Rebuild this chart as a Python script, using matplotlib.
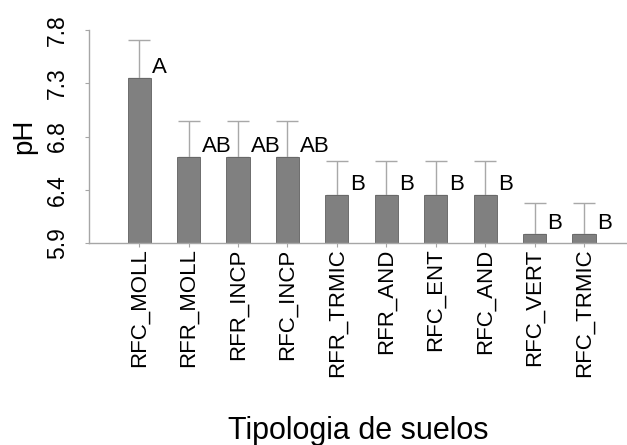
import matplotlib
matplotlib.use("Agg")
import matplotlib.pyplot as plt
import numpy as np

plt.rcParams['font.family'] = ['Liberation Sans', 'DejaVu Sans']

# Soil typologies and mean pH with upper error
categories = ["RFC_MOLL", "RFR_MOLL", "RFR_INCP", "RFC_INCP", "RFR_TRMIC",
              "RFR_AND", "RFC_ENT", "RFC_AND", "RFC_VERT", "RFC_TRMIC"]
ph_mean = [7.37, 6.67, 6.67, 6.67, 6.33, 6.33, 6.33, 6.33, 5.98, 5.98]
ph_err = [0.34, 0.32, 0.32, 0.32, 0.30, 0.30, 0.30, 0.30, 0.28, 0.28]
groups = ["A", "AB", "AB", "AB", "B", "B", "B", "B", "B", "B"]
yticks = [5.9, 6.375, 6.85, 7.325, 7.8]
ytick_labels = ["5.9", "6.4", "6.8", "7.3", "7.8"]

fig = plt.figure(figsize=(6.27, 4.45), dpi=100)
ax = fig.add_axes([89 / 627, 202 / 445, 538 / 627, 213 / 445])

x = np.arange(len(categories))
width = 0.47
axis_gray = "#a6a6a6"

ax.bar(x, ph_mean, width=width, color="#808080", edgecolor="#606060",
       linewidth=0.6, zorder=2)
ax.errorbar(x, ph_mean, yerr=[np.zeros(len(x)), ph_err], fmt="none",
            ecolor="#a8a8a8", elinewidth=1.0, capsize=8.2, capthick=1.0,
            zorder=1)

for xi, m, g in zip(x, ph_mean, groups):
    ax.annotate(g, (xi + width / 2, m), xytext=(1, 0),
                textcoords="offset points", ha="left", va="bottom",
                fontsize=16)

ax.set_ylim(5.9, 7.8)
ax.set_xlim(-1.015, 9.87)
ax.set_yticks(yticks)
ax.set_yticklabels(ytick_labels, rotation=90, va="center", ha="center")
ax.set_xticks(x)
ax.set_xticklabels(categories, rotation=90, ha="center", va="top")

for side in ("top", "right"):
    ax.spines[side].set_visible(False)
for side in ("left", "bottom"):
    ax.spines[side].set_color(axis_gray)
    ax.spines[side].set_linewidth(1.0)

ax.tick_params(axis="y", length=3, color=axis_gray, labelsize=16.5, pad=19.5)
ax.tick_params(axis="x", length=3, color=axis_gray, labelsize=16, pad=1)

ax.set_ylabel("pH", fontsize=20)
ax.yaxis.set_label_coords(-0.097, 0.5)
ax.set_xlabel("Tipologia de suelos", fontsize=22)
ax.xaxis.set_label_coords(0.5, -0.812)

fig.savefig("out.png", dpi=100)
